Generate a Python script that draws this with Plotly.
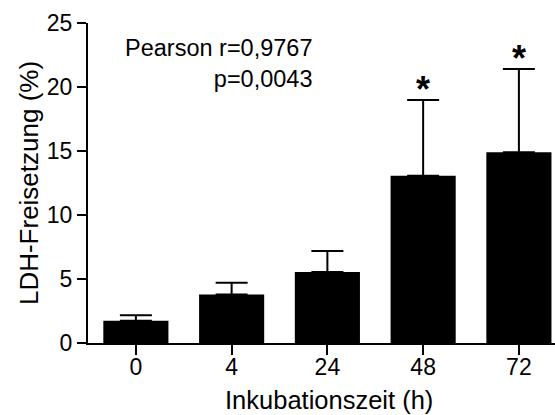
import plotly.graph_objects as go

categories = ["0", "4", "24", "48", "72"]
means = [1.74, 3.78, 5.55, 13.07, 14.9]
errors_up = [0.42, 0.93, 1.64, 5.91, 6.5]
significant = [False, False, False, True, True]
y_ticks = [0, 5, 10, 15, 20, 25]

FONT = "Liberation Sans, Arial, sans-serif"
xs = list(range(len(categories)))

fig = go.Figure()
fig.add_trace(go.Bar(
    x=xs, y=means, width=0.68,
    marker=dict(color="black", line=dict(width=0)),
    error_y=dict(type="data", symmetric=False, array=errors_up,
                 arrayminus=[0] * len(means), color="black",
                 thickness=2, width=16),
))

for x, m, e, s in zip(xs, means, errors_up, significant):
    if s:
        fig.add_annotation(x=x, y=m + e, text="<b>*</b>", showarrow=False,
                           yanchor="bottom", yshift=-12,
                           font=dict(family=FONT, size=36, color="black"))

fig.add_annotation(xref="paper", yref="paper", x=(314 - 88) / 467, y=(343 - 33) / 320,
                   xanchor="right", yanchor="top", align="right", showarrow=False,
                   text="Pearson r=0,9767<br>p=0,0043",
                   font=dict(family=FONT, size=23.5, color="black"))

# x-axis title placed below the tick labels
fig.add_annotation(xref="paper", yref="paper", x=(329 - 88) / 467, y=-(400 - 343) / 320,
                   xanchor="center", yanchor="middle", showarrow=False,
                   text="Inkubationszeit (h)",
                   font=dict(family=FONT, size=25.5, color="black"))

fig.update_layout(
    width=555, height=415,
    margin=dict(l=88, r=0, t=23, b=72),
    plot_bgcolor="white", paper_bgcolor="white",
    showlegend=False,
    font=dict(family=FONT, size=23, color="black"),
    xaxis=dict(range=[-0.5, 4.377], tickvals=xs, ticktext=categories,
               showline=True, linecolor="black", linewidth=2,
               ticks="outside", ticklen=10, tickwidth=2, tickcolor="black",
               ticklabelstandoff=-8,
               showgrid=False, zeroline=False),
    yaxis=dict(range=[0, 25], tickvals=y_ticks,
               showline=True, linecolor="black", linewidth=2,
               ticks="outside", ticklen=9, tickwidth=2, tickcolor="black",
               showgrid=False, zeroline=False,
               title=dict(text="LDH-Freisetzung (%)", standoff=1,
                          font=dict(family=FONT, size=26))),
)

fig.write_html("out.html")
